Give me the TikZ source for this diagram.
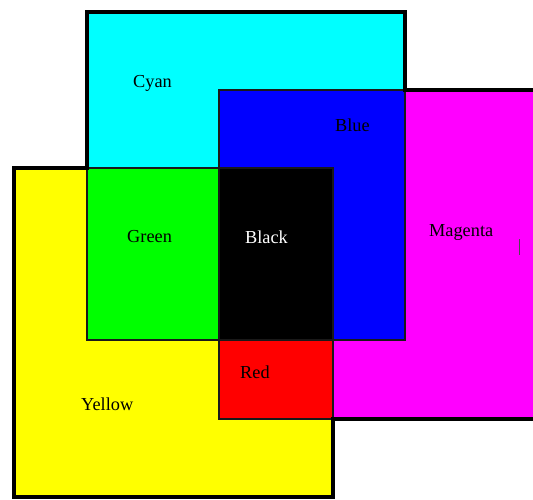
\documentclass[tikz,border=0pt]{standalone}
\usepackage{fontspec}
\setmainfont{Liberation Serif}
\definecolor{cmyC}{RGB}{0,255,255}
\definecolor{cmyM}{RGB}{255,0,255}
\definecolor{cmyY}{RGB}{255,255,0}
\definecolor{cmyR}{RGB}{255,0,0}
\definecolor{cmyG}{RGB}{0,255,0}
\definecolor{cmyB}{RGB}{0,0,255}
\begin{document}
\begin{tikzpicture}[x=1pt, y=-1pt,
  edge/.style={draw=black!90, line width=2pt},
  rim/.style={draw=black, line width=3.2pt},
  lbl/.style={anchor=base west, inner sep=0pt, font=\fontsize{18.3}{21}\selectfont}]
\clip (0,0) rectangle (533,499);
\fill[white] (0,0) rectangle (533,499);
% the three squares
\fill[cmyC] (87,12) rectangle (405,340);
\fill[cmyM] (219,90) rectangle (540,419);
\fill[cmyY] (14,168) rectangle (333,497);
% overlaps
\fill[cmyB] (219,90) rectangle (405,340);
\fill[cmyG] (87,168) rectangle (333,340);
\fill[cmyR] (219,340) rectangle (333,419);
\fill[black] (219,168) rectangle (333,340);
% outlines
\draw[edge] (87,12) rectangle (405,340);
\draw[edge] (219,90) rectangle (540,419);
\draw[edge] (14,168) rectangle (333,497);
\draw[rim] (87,12) -- (405,12) -- (405,90) -- (540,90) -- (540,419)
  -- (333,419) -- (333,497) -- (14,497) -- (14,168) -- (87,168) -- cycle;
\draw[black!70, line width=0.6pt] (519.5,239) -- (519.5,255);
% labels
\node[lbl] (cyan) at (133,87) {Cyan};
\node[lbl] (blue) at (335,131) {Blue};
\node[lbl] (green) at (127,242) {Green};
\node[lbl, text=white] (black) at (245,243) {Black};
\node[lbl] (magenta) at (429,236) {Magenta};
\node[lbl] (red) at (240,378) {Red};
\node[lbl] (yellow) at (81,410) {Yellow};
\end{tikzpicture}
\end{document}
